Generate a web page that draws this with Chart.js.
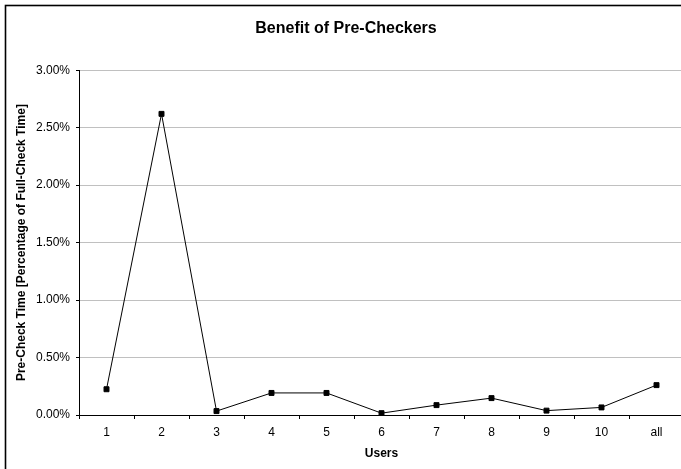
<!DOCTYPE html>
<html>
<head>
<meta charset="utf-8">
<script src="https://cdn.jsdelivr.net/npm/chart.js@4.4.1/dist/chart.umd.min.js"></script>
<style>
  html, body { margin: 0; padding: 0; background: #fff; overflow: hidden; }
  #wrap { width: 681px; height: 469px; overflow: hidden; }
</style>
</head>
<body>
<div id="wrap"><canvas id="benefitChart" width="710" height="480"></canvas></div>
<script>
// data
let users = ["1", "2", "3", "4", "5", "6", "7", "8", "9", "10", "all"];
let preCheckPct = [0.224, 2.62, 0.034, 0.192, 0.192, 0.016, 0.086, 0.147, 0.038, 0.066, 0.26];
let yTicks = [0, 0.5, 1, 1.5, 2, 2.5, 3];

let fontFace = "'Liberation Sans', Arial, sans-serif";

// outer frame round the whole chart (the picture is cut off on the right and bottom)
const framePlugin = {
    id: 'frame',
    afterDraw(chart) {
        let ctx = chart.ctx;
        ctx.save();
        ctx.strokeStyle = '#000';
        ctx.lineWidth = 1.6;
        ctx.strokeRect(5.5, 5.5, chart.width - 11, chart.height - 11);
        ctx.restore();
    }
};

let ctx = document.getElementById('benefitChart').getContext('2d');
let benefitChart = new Chart(ctx, {
    type: 'line',
    data: {
        labels: users,
        datasets: [{
            label: 'Pre-Check Time',
            data: preCheckPct,
            borderColor: '#000',
            backgroundColor: '#000',
            borderWidth: 1,
            pointStyle: 'rect',
            pointRadius: 3.5,
            pointHoverRadius: 3.5,
            tension: 0
        }]
    },
    options: {
        responsive: false,
        animation: false,
        layout: { padding: { left: 8, right: 26, top: 0, bottom: 19 } },
        plugins: {
            legend: { display: false },
            tooltip: { enabled: false },
            title: {
                display: true,
                text: 'Benefit of Pre-Checkers',
                color: '#000',
                font: { family: fontFace, size: 16, weight: 'bold' },
                padding: { top: 19, bottom: 32 }
            }
        },
        scales: {
            x: {
                offset: true,
                grid: {
                    offset: true,
                    drawOnChartArea: false,
                    drawTicks: true,
                    tickLength: 4,
                    tickColor: '#000'
                },
                border: { display: true, color: '#000', width: 1 },
                ticks: {
                    color: '#000',
                    font: { family: fontFace, size: 12 },
                    padding: 6,
                    maxRotation: 0
                },
                title: {
                    display: true,
                    text: 'Users',
                    color: '#000',
                    font: { family: fontFace, size: 12, weight: 'bold' },
                    padding: { top: 6, bottom: 0 }
                },
                afterFit(scale) { scale.height = 46; }
            },
            y: {
                min: 0,
                max: 3,
                afterBuildTicks(scale) {
                    scale.ticks = yTicks.map(v => ({ value: v }));
                },
                grid: {
                    color: '#c0c0c0',
                    tickColor: '#000',
                    tickLength: 3,
                    lineWidth: 1
                },
                border: { display: true, color: '#000', width: 1 },
                ticks: {
                    color: '#000',
                    font: { family: fontFace, size: 12 },
                    padding: 6,
                    callback: v => v.toFixed(2) + '%'
                },
                title: {
                    display: true,
                    text: 'Pre-Check Time [Percentage of Full-Check Time]',
                    color: '#000',
                    font: { family: fontFace, size: 12, weight: 'bold' },
                    padding: { top: 6, bottom: 0 }
                },
                afterFit(scale) { scale.width = 71; }
            }
        }
    },
    plugins: [framePlugin]
});
</script>
</body>
</html>
